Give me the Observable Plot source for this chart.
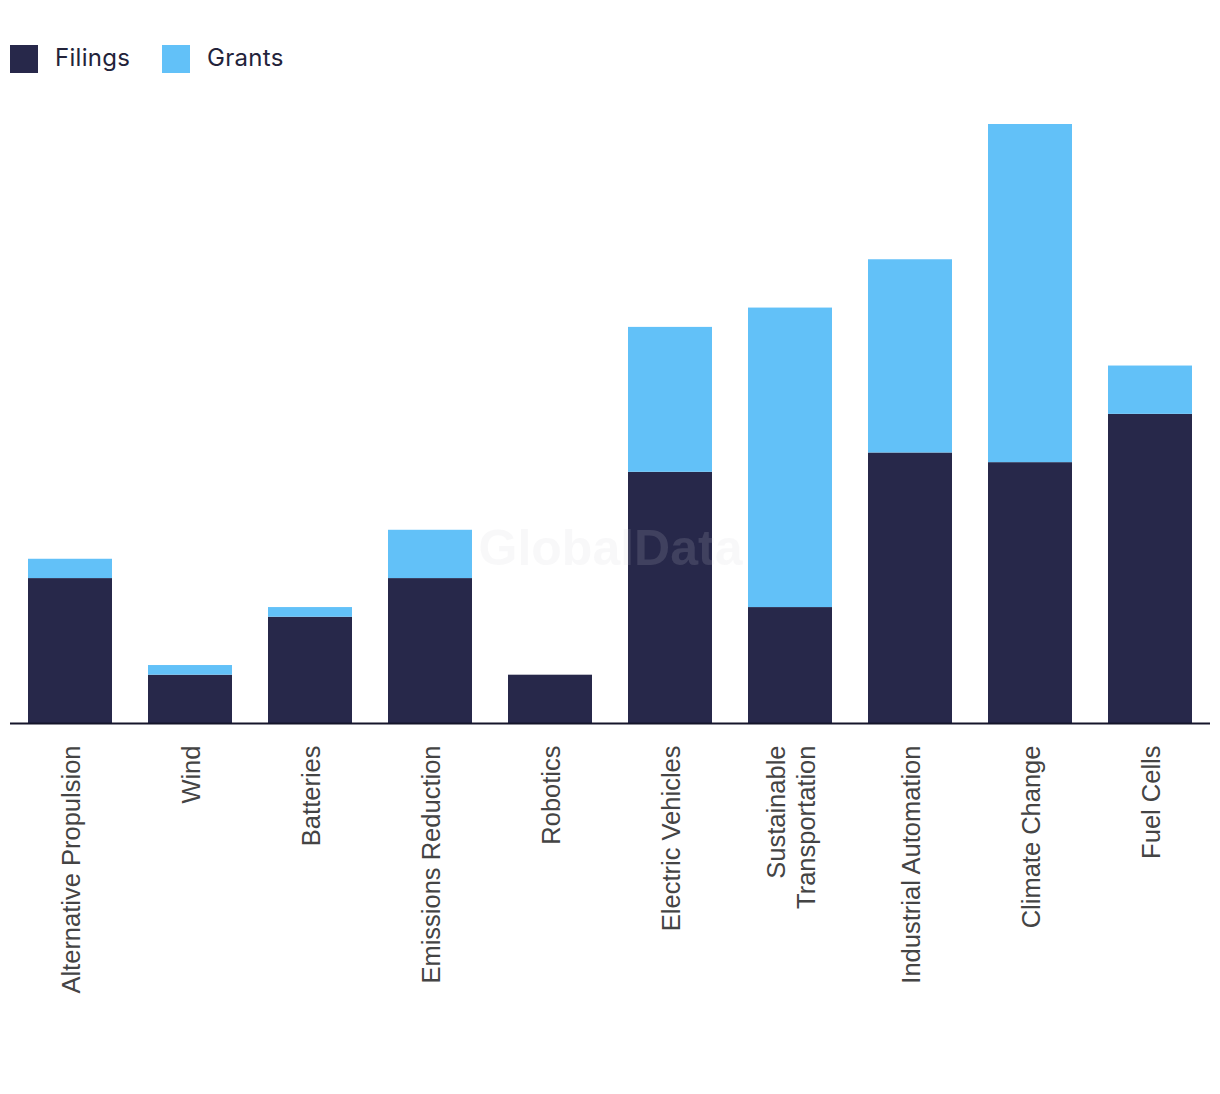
<!DOCTYPE html>
<html>
<head>
<meta charset="utf-8">
<script src="https://cdn.jsdelivr.net/npm/d3@7"></script>
<script src="https://cdn.jsdelivr.net/npm/@observablehq/plot@0.6"></script>
<style>
  body { margin: 0; background: #ffffff; }
  #legend { position: relative; height: 90px; width: 1220px; }
  .item { position: absolute; top: 45px; height: 28px; display: flex; align-items: center; }
  .sw { width: 28px; height: 28px; }
  .lab { font-family: "Inter", "Noto Sans", sans-serif; font-size: 24px; letter-spacing: 0.3px; color: #23233a; margin-left: 17px; line-height: 28px; margin-top: -2px; }
</style>
</head>
<body>
<div id="legend"></div>
<div id="chart"></div>
<script>
const categories = ["Alternative Propulsion", "Wind", "Batteries", "Emissions Reduction", "Robotics",
  "Electric Vehicles", "Sustainable Transportation", "Industrial Automation", "Climate Change", "Fuel Cells"];
const tickLabels = ["Alternative Propulsion", "Wind", "Batteries", "Emissions Reduction", "Robotics",
  "Electric Vehicles", "Sustainable\nTransportation", "Industrial Automation", "Climate Change", "Fuel Cells"];
const seriesNames = ["Filings", "Grants"];
const filings = [15, 5, 11, 15, 5, 26, 12, 28, 27, 32];
const grants = [2, 1, 1, 5, 0, 15, 31, 20, 35, 5];
const colors = ["#27284a", "#62c1f8"];
const watermark = ["GlobalData"];

const rows = [];
categories.forEach((c, i) => rows.push({category: c, series: seriesNames[0], value: filings[i]}));
categories.forEach((c, i) => rows.push({category: c, series: seriesNames[1], value: grants[i]}));

// legend
const legend = document.getElementById("legend");
const legendLeft = [10, 162];
seriesNames.forEach((s, i) => {
  const item = document.createElement("div");
  item.className = "item";
  item.style.left = legendLeft[i] + "px";
  const sw = document.createElement("div");
  sw.className = "sw";
  sw.style.background = colors[i];
  const lab = document.createElement("span");
  lab.className = "lab";
  lab.textContent = s;
  item.appendChild(sw);
  item.appendChild(lab);
  legend.appendChild(item);
});

const labelMap = new Map(categories.map((c, i) => [c, tickLabels[i]]));

const chart = Plot.plot({
  width: 1220,
  height: 1004,
  marginTop: 34,
  marginBottom: 371,
  marginLeft: 10,
  marginRight: 10,
  style: { fontFamily: "'Liberation Sans', Arial, sans-serif", background: "#ffffff" },
  x: { domain: categories, paddingInner: 0.3, paddingOuter: 0.15, label: null },
  y: { domain: [0, 62], axis: null },
  color: { domain: seriesNames, range: colors },
  marks: [
    Plot.barY(rows, { x: "category", y: "value", z: "series", fill: "series" }),
    Plot.ruleY([0], { stroke: "#15152a", strokeWidth: 2 }),
    Plot.axisX({
      tickSize: 0,
      tickPadding: 22,
      tickRotate: -90,
      fontSize: 25.5,
      lineHeight: 1.18,
      fill: "#444444",
      tickFormat: d => labelMap.get(d),
      label: null
    }),
    Plot.text(watermark, {
      text: d => d,
      frameAnchor: "middle",
      dy: 125,
      fontSize: 50,
      fontWeight: "bold",
      fill: "#cfcfd6",
      fillOpacity: 0.15
    })
  ]
});
document.getElementById("chart").appendChild(chart);
</script>
</body>
</html>
